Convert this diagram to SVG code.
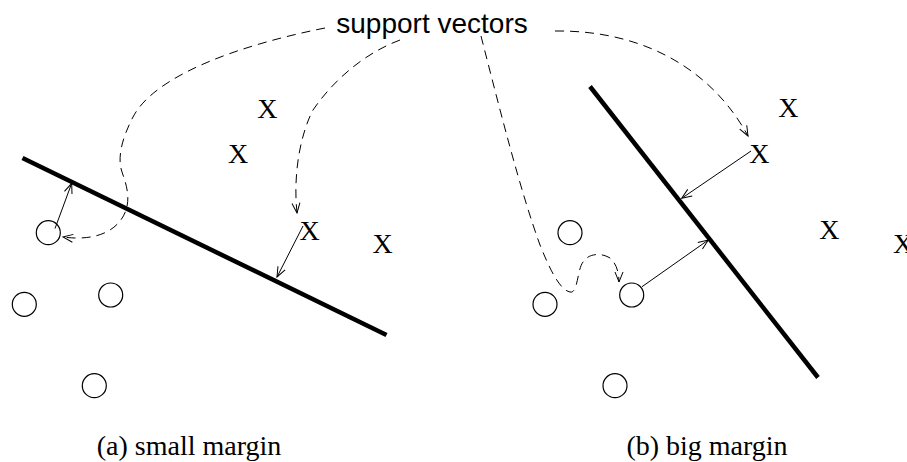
<svg xmlns="http://www.w3.org/2000/svg" width="907" height="462" viewBox="0 0 907 462">
<style>
.pt{fill:none;stroke:#000;stroke-width:1.2}
.x{font-family:"Liberation Serif","Times New Roman",serif;font-size:28px;text-anchor:middle;fill:#000}
.sep{stroke:#000;stroke-width:4.5;stroke-linecap:butt;fill:none}
.arr{stroke:#000;stroke-width:1;fill:none;marker-end:url(#ah)}
.dash{stroke:#000;stroke-width:1;fill:none;stroke-dasharray:9,6;marker-end:url(#ah)}
.lbl{font-family:"Liberation Serif","Times New Roman",serif;font-size:28px;text-anchor:middle;fill:#000}
.sv{font-family:"Liberation Sans",Arial,sans-serif;font-size:28px;text-anchor:middle;fill:#000}
</style>
<defs>
<marker id="ah" markerUnits="userSpaceOnUse" orient="auto" markerWidth="14" markerHeight="12" refX="11" refY="6" viewBox="0 0 14 12" overflow="visible">
<path d="M1,2 L11,6 L1,10" fill="none" stroke="#000" stroke-width="1"/>
</marker>
</defs>

<g id="label-support-vectors"><text class="sv" x="432" y="33">support vectors</text></g>

<g id="panel-a">
<g id="a-separator"><line class="sep" x1="22.5" y1="158" x2="386.5" y2="335"/></g>
<g id="a-x1"><text class="x" x="267.3" y="117.6">X</text></g>
<g id="a-x2"><text class="x" x="238" y="163.3">X</text></g>
<g id="a-x3"><text class="x" x="309.5" y="240">X</text></g>
<g id="a-x4"><text class="x" x="382.7" y="252.6">X</text></g>
<g id="a-o1"><circle class="pt" cx="48.3" cy="232.7" r="12"/></g>
<g id="a-o2"><circle class="pt" cx="24.3" cy="304.3" r="12"/></g>
<g id="a-o3"><circle class="pt" cx="110.7" cy="295" r="12"/></g>
<g id="a-o4"><circle class="pt" cx="94.3" cy="385.7" r="12"/></g>
<g id="a-caption"><text class="lbl" x="189" y="455">(a) small margin</text></g>
</g>

<g id="panel-b">
<g id="b-separator"><line class="sep" x1="590" y1="86.5" x2="818" y2="377.5"/></g>
<g id="b-x1"><text class="x" x="788.3" y="116.6">X</text></g>
<g id="b-x2"><text class="x" x="759.3" y="162.6">X</text></g>
<g id="b-x3"><text class="x" x="829.3" y="239.3">X</text></g>
<g id="b-x4"><text class="x" x="903" y="252.6">X</text></g>
<g id="b-o1"><circle class="pt" cx="570" cy="232.7" r="12"/></g>
<g id="b-o2"><circle class="pt" cx="545" cy="304.3" r="12"/></g>
<g id="b-o3"><circle class="pt" cx="631.7" cy="295" r="12"/></g>
<g id="b-o4"><circle class="pt" cx="615" cy="385.7" r="12"/></g>
<g id="b-caption"><text class="lbl" x="707" y="455">(b) big margin</text></g>
</g>

<g id="connectors">
<line class="arr" x1="55" y1="228.5" x2="71.7" y2="183.3"/>
<line class="arr" x1="303" y1="226" x2="277" y2="277"/>
<line class="arr" x1="642" y1="286.7" x2="708.3" y2="240"/>
<line class="arr" x1="751" y1="151" x2="681.7" y2="198.3"/>
<path class="dash" d="M325,28 C240,45 155,75 133,117 C122,138 117,158 122,172 C127,186 130,198 126,210 C120,228 100,242 63,237"/>
<path class="dash" d="M400,40 C360,55 330,85 313,110 C300,135 293,175 297,213"/>
<path class="dash" d="M555,31 C650,30 715,75 748,136"/>
<path class="dash" d="M481,36 C500,110 520,190 540,245 C550,270 560,290 570,292 C578,294 577,270 583,262 C588,254 600,252 610,258 C616,263 619,272 619,282"/>
</g>
</svg>
